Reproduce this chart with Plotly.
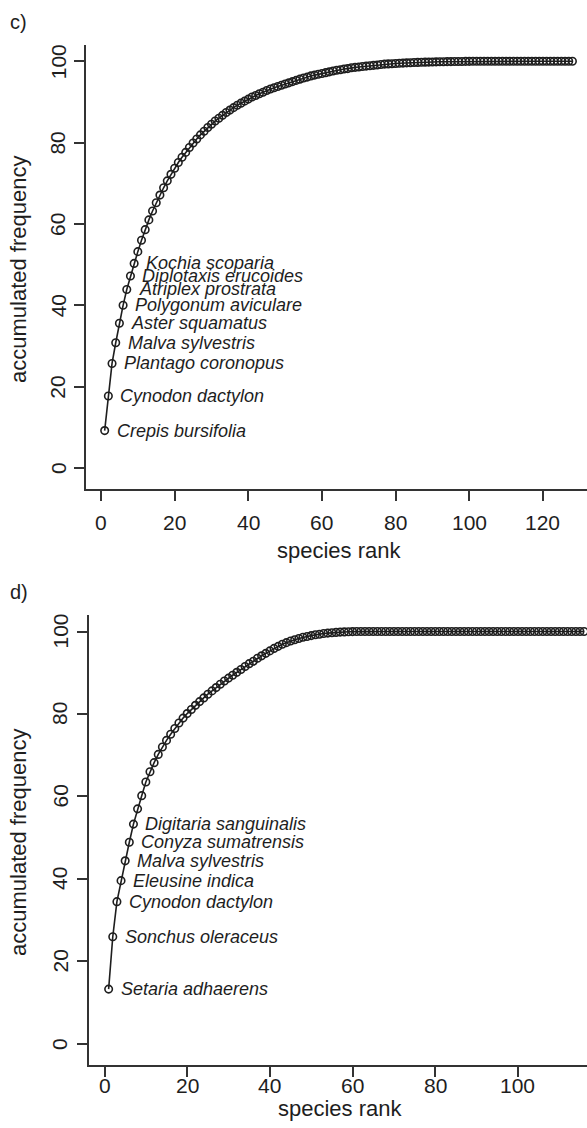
import plotly.graph_objects as go

# ---------------- data ----------------
rank_c = list(range(1, 129))
freq_c = [9.2, 17.7, 25.7, 30.8, 35.6, 40.0, 43.9, 47.2, 50.3, 53.2,
          56.0, 58.6, 61.0, 63.2, 65.2, 67.1, 68.9, 70.6, 72.2, 73.7,
          75.1, 76.4, 77.6, 78.8, 79.9, 80.9, 81.9, 82.8, 83.7, 84.5,
          85.3, 86.0, 86.7, 87.4, 88.0, 88.6, 89.2, 89.7, 90.2, 90.7,
          91.2, 91.6, 92.0, 92.4, 92.8, 93.2, 93.5, 93.8, 94.1, 94.4,
          94.7, 95.0, 95.3, 95.6, 95.9, 96.1, 96.4, 96.6, 96.8, 97.0,
          97.2, 97.4, 97.6, 97.8, 97.9, 98.1, 98.2, 98.4, 98.5, 98.6,
          98.7, 98.8, 98.9, 99.0, 99.1, 99.2, 99.3, 99.35, 99.4, 99.45,
          99.5, 99.55, 99.6, 99.65, 99.7, 99.72, 99.75, 99.78, 99.8, 99.82,
          99.85, 99.87, 99.9, 99.91, 99.92, 99.94, 99.95, 99.96, 99.97, 99.98,
          100, 100, 100, 100, 100, 100, 100, 100, 100, 100,
          100, 100, 100, 100, 100, 100, 100, 100, 100, 100,
          100, 100, 100, 100, 100, 100, 100, 100]
labels_c = ["Crepis bursifolia", "Cynodon dactylon", "Plantago coronopus",
            "Malva sylvestris", "Aster squamatus", "Polygonum aviculare",
            "Atriplex prostrata", "Diplotaxis erucoides", "Kochia scoparia"]

rank_d = list(range(1, 117))
freq_d = [13.3, 26.0, 34.5, 39.6, 44.4, 48.9, 53.3, 57.0, 60.2, 63.5,
          66.0, 68.2, 70.2, 72.0, 73.6, 75.1, 76.5, 77.8, 79.0, 80.1,
          81.1, 82.1, 83.0, 83.9, 84.8, 85.6, 86.4, 87.2, 88.0, 88.7,
          89.4, 90.1, 90.8, 91.5, 92.2, 92.8, 93.5, 94.1, 94.7, 95.3,
          95.9, 96.4, 96.9, 97.3, 97.7, 98.0, 98.3, 98.6, 98.8, 99.0,
          99.2, 99.35, 99.5, 99.6, 99.7, 99.78, 99.85, 99.9, 99.95, 99.98,
          100, 100, 100, 100, 100, 100, 100, 100, 100, 100,
          100, 100, 100, 100, 100, 100, 100, 100, 100, 100,
          100, 100, 100, 100, 100, 100, 100, 100, 100, 100,
          100, 100, 100, 100, 100, 100, 100, 100, 100, 100,
          100, 100, 100, 100, 100, 100, 100, 100, 100, 100,
          100, 100, 100, 100, 100, 100]
labels_d = ["Setaria adhaerens", "Sonchus oleraceus", "Cynodon dactylon",
            "Eleusine indica", "Malva sylvestris", "Conyza sumatrensis",
            "Digitaria sanguinalis"]

y_ticks = [0, 20, 40, 60, 80, 100]
x_ticks_c = [0, 20, 40, 60, 80, 100, 120]
x_ticks_d = [0, 20, 40, 60, 80, 100]

panel_letters = ["c)", "d)"]
x_title = "species rank"
y_title = "accumulated frequency"

# ---------------- layout constants ----------------
W, H = 587, 1128
FONT = "Liberation Sans, Arial, sans-serif"
INK = "#1e1e1e"
AX = "#333333"


def py(p):
    return 1 - p / H


def px(p):
    return p / W


fig = go.Figure()

marker_style = dict(symbol="circle-open", size=7.5, color=INK, line=dict(width=1.6, color=INK))

fig.add_trace(go.Scatter(
    x=rank_c, y=freq_c, mode="lines+markers", xaxis="x", yaxis="y",
    line=dict(color=INK, width=1.6), marker=marker_style,
    showlegend=False, hoverinfo="x+y"))

fig.add_trace(go.Scatter(
    x=rank_d, y=freq_d, mode="lines+markers", xaxis="x2", yaxis="y2",
    line=dict(color=INK, width=1.6), marker=marker_style,
    showlegend=False, hoverinfo="x+y"))

axis_common = dict(showgrid=False, zeroline=False, showline=True, linecolor=AX,
                   linewidth=1.6, ticks="outside", ticklen=10, tickwidth=1.6,
                   tickcolor=AX, showticklabels=False)

fig.update_layout(
    width=W, height=H,
    margin=dict(l=0, r=0, t=0, b=0),
    paper_bgcolor="white", plot_bgcolor="white",
    xaxis=dict(domain=[px(86), 1.0], range=[-4.07, 131.96], anchor="y",
               tickvals=x_ticks_c, **axis_common),
    yaxis=dict(domain=[py(489), py(45)], range=[-5.16, 104.0], anchor="x",
               tickvals=y_ticks, **axis_common),
    xaxis2=dict(domain=[px(89), 1.0], range=[-3.75, 116.7], anchor="y2",
                tickvals=x_ticks_d, **axis_common),
    yaxis2=dict(domain=[py(1065), py(615)], range=[-5.1, 104.0], anchor="x2",
                tickvals=y_ticks, **axis_common),
)

ann = []
tick_font = dict(family=FONT, size=21, color=INK)

# tick labels (placed at axis data positions)
for v in x_ticks_c:
    ann.append(dict(x=v, y=py(522), xref="x", yref="paper", text=str(v), showarrow=False,
                    xanchor="center", yanchor="middle", font=tick_font))
for v in x_ticks_d:
    ann.append(dict(x=v, y=py(1085), xref="x2", yref="paper", text=str(v), showarrow=False,
                    xanchor="center", yanchor="middle", font=tick_font))
for v in y_ticks:
    ann.append(dict(x=px(58), y=v, xref="paper", yref="y", text=str(v), showarrow=False,
                    textangle=-90, xanchor="center", yanchor="middle", font=tick_font))
    ann.append(dict(x=px(60), y=v, xref="paper", yref="y2", text=str(v), showarrow=False,
                    textangle=-90, xanchor="center", yanchor="middle", font=tick_font))

# species labels
for i, lab in enumerate(labels_c):
    ann.append(dict(x=rank_c[i], y=freq_c[i], xref="x", yref="y", text="<i>" + lab + "</i>",
                    showarrow=False, xanchor="left", yanchor="middle", xshift=10,
                    font=dict(family=FONT, size=18, color=INK)))
for i, lab in enumerate(labels_d):
    ann.append(dict(x=rank_d[i], y=freq_d[i], xref="x2", yref="y2", text="<i>" + lab + "</i>",
                    showarrow=False, xanchor="left", yanchor="middle", xshift=10,
                    font=dict(family=FONT, size=18, color=INK)))

# panel letters
ann.append(dict(x=px(8), y=py(22), xref="paper", yref="paper", text=panel_letters[0],
                showarrow=False, xanchor="left", yanchor="middle",
                font=dict(family=FONT, size=20, color=INK)))
ann.append(dict(x=px(8), y=py(592), xref="paper", yref="paper", text=panel_letters[1],
                showarrow=False, xanchor="left", yanchor="middle",
                font=dict(family=FONT, size=20, color=INK)))

# axis titles
for yc in (270, 843):
    ann.append(dict(x=px(18), y=py(yc), xref="paper", yref="paper", text=y_title,
                    showarrow=False, textangle=-90, xanchor="center", yanchor="middle",
                    font=dict(family=FONT, size=22, color=INK)))
for xc, yc in ((339, 550), (340, 1108)):
    ann.append(dict(x=px(xc), y=py(yc), xref="paper", yref="paper", text=x_title,
                    showarrow=False, xanchor="center", yanchor="middle",
                    font=dict(family=FONT, size=22, color=INK)))

fig.update_layout(annotations=ann)

fig.write_html("out.html")
